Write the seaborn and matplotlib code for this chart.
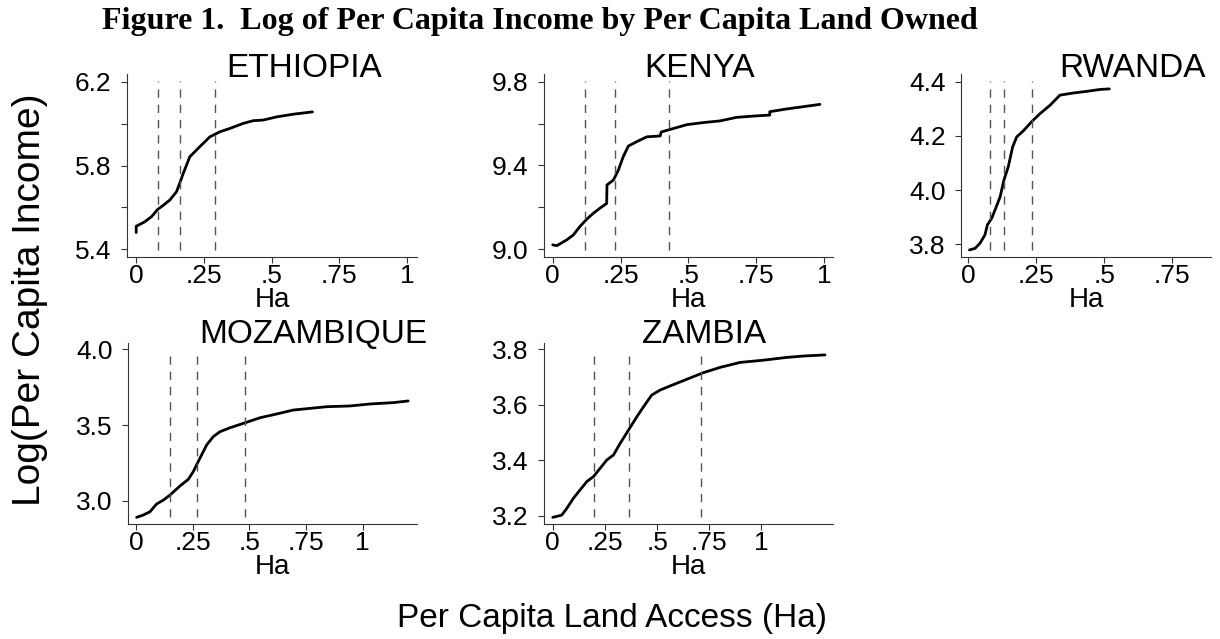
import matplotlib
matplotlib.use("Agg")
import matplotlib.pyplot as plt
import seaborn as sns
import pandas as pd
from matplotlib.ticker import FixedLocator

# ---------------- data ----------------
countries = ["ETHIOPIA", "KENYA", "RWANDA", "MOZAMBIQUE", "ZAMBIA"]

eth_x = [0.0, 0.0, 0.03, 0.057, 0.079, 0.10, 0.124, 0.149, 0.162, 0.174, 0.198, 0.235,
         0.272, 0.309, 0.346, 0.395, 0.432, 0.469, 0.518, 0.58, 0.651]
eth_y = [5.48, 5.51, 5.53, 5.556, 5.59, 5.61, 5.635, 5.675, 5.72, 5.763, 5.842, 5.89,
         5.937, 5.961, 5.977, 6.001, 6.014, 6.017, 6.032, 6.045, 6.056]

ken_x = [0.0, 0.015, 0.052, 0.076, 0.10, 0.125, 0.15, 0.174, 0.199, 0.2, 0.224, 0.242,
         0.26, 0.279, 0.31, 0.347, 0.396, 0.40, 0.432, 0.494, 0.555, 0.617, 0.678,
         0.74, 0.80, 0.80, 0.862, 0.924, 0.985]
ken_y = [9.021, 9.017, 9.045, 9.068, 9.108, 9.143, 9.172, 9.196, 9.219, 9.307, 9.331,
         9.378, 9.442, 9.493, 9.514, 9.537, 9.541, 9.56, 9.572, 9.595, 9.605, 9.613,
         9.63, 9.636, 9.641, 9.657, 9.67, 9.681, 9.692]

rwa_x = [0.004, 0.025, 0.043, 0.061, 0.07, 0.086, 0.098, 0.117, 0.131, 0.147, 0.163,
         0.178, 0.202, 0.233, 0.264, 0.301, 0.337, 0.387, 0.436, 0.485, 0.519]
rwa_y = [3.779, 3.785, 3.804, 3.834, 3.871, 3.896, 3.926, 3.975, 4.037, 4.086, 4.159,
         4.196, 4.218, 4.252, 4.282, 4.313, 4.350, 4.358, 4.364, 4.371, 4.373]

moz_x = [0.003, 0.032, 0.062, 0.091, 0.121, 0.15, 0.194, 0.231, 0.253, 0.282, 0.312,
         0.341, 0.371, 0.415, 0.474, 0.547, 0.621, 0.694, 0.768, 0.841, 0.944, 1.032,
         1.135, 1.201]
moz_y = [2.89, 2.905, 2.927, 2.978, 3.004, 3.037, 3.097, 3.141, 3.192, 3.28, 3.368,
         3.423, 3.456, 3.482, 3.511, 3.548, 3.573, 3.599, 3.61, 3.621, 3.626, 3.639,
         3.648, 3.659]

zam_x = [0.0, 0.043, 0.067, 0.099, 0.131, 0.163, 0.195, 0.227, 0.259, 0.291, 0.323,
         0.363, 0.403, 0.435, 0.474, 0.514, 0.562, 0.642, 0.722, 0.802, 0.898, 1.01,
         1.121, 1.201, 1.305]
zam_y = [3.194, 3.202, 3.226, 3.263, 3.293, 3.323, 3.341, 3.371, 3.401, 3.419, 3.461,
         3.509, 3.557, 3.593, 3.635, 3.653, 3.668, 3.692, 3.716, 3.735, 3.753, 3.761,
         3.771, 3.776, 3.78]

eth_vlines = [0.080, 0.161, 0.291]
ken_vlines = [0.119, 0.229, 0.429]
rwa_vlines = [0.081, 0.133, 0.233]
moz_vlines = [0.150, 0.268, 0.481]
zam_vlines = [0.198, 0.367, 0.709]

eth_yticks = [5.4, 5.8, 6.2]; eth_ylabels = ["5.4", "5.8", "6.2"]; eth_yminor = [5.6, 6.0]
ken_yticks = [9.0, 9.4, 9.8]; ken_ylabels = ["9.0", "9.4", "9.8"]; ken_yminor = [9.2, 9.6]
rwa_yticks = [3.8, 4.0, 4.2, 4.4]; rwa_ylabels = ["3.8", "4.0", "4.2", "4.4"]
moz_yticks = [3.0, 3.5, 4.0]; moz_ylabels = ["3.0", "3.5", "4.0"]
zam_yticks = [3.2, 3.4, 3.6, 3.8]; zam_ylabels = ["3.2", "3.4", "3.6", "3.8"]

xticks_full = [0, 0.25, 0.5, 0.75, 1]; xlabels_full = ["0", ".25", ".5", ".75", "1"]
xticks_rwa = [0, 0.25, 0.5, 0.75]; xlabels_rwa = ["0", ".25", ".5", ".75"]

fig_title = "Figure 1.  Log of Per Capita Income by Per Capita Land Owned"
y_title = "Log(Per Capita Income)"
x_title = "Per Capita Land Access (Ha)"
panel_xlabel = "Ha"

# ---------------- style ----------------
sns.set_theme(style="ticks")
plt.rcParams["font.family"] = ["Liberation Sans", "DejaVu Sans"]
plt.rcParams["text.color"] = "black"
plt.rcParams["axes.labelcolor"] = "black"

W, H = 1220, 639
fig = plt.figure(figsize=(W / 100, H / 100), dpi=100)
fig.patch.set_facecolor("white")


def px_axes(left, right, top, bottom):
    return fig.add_axes([left / W, 1 - bottom / H, (right - left) / W, (bottom - top) / H])


panels = [
    dict(name=countries[0], x=eth_x, y=eth_y, v=eth_vlines, box=(127, 417, 74, 257),
         xlim=(-0.034, 1.037), ylim=(5.363, 6.237), yt=eth_yticks, yl=eth_ylabels,
         ym=eth_yminor, xt=xticks_full, xl=xlabels_full, tpos=(304, 77)),
    dict(name=countries[1], x=ken_x, y=ken_y, v=ken_vlines, box=(544, 833, 74, 257),
         xlim=(-0.032, 1.033), ylim=(8.963, 9.837), yt=ken_yticks, yl=ken_ylabels,
         ym=ken_yminor, xt=xticks_full, xl=xlabels_full, tpos=(700, 77)),
    dict(name=countries[2], x=rwa_x, y=rwa_y, v=rwa_vlines, box=(961, 1211, 74, 257),
         xlim=(-0.027, 0.893), ylim=(3.753, 4.428), yt=rwa_yticks, yl=rwa_ylabels,
         ym=[], xt=xticks_rwa, xl=xlabels_rwa, tpos=(1133, 77)),
    dict(name=countries[3], x=moz_x, y=moz_y, v=moz_vlines, box=(128, 417, 343, 524),
         xlim=(-0.035, 1.24), ylim=(2.846, 4.042), yt=moz_yticks, yl=moz_ylabels,
         ym=[], xt=xticks_full, xl=xlabels_full, tpos=(313, 343)),
    dict(name=countries[4], x=zam_x, y=zam_y, v=zam_vlines, box=(544, 833, 343, 524),
         xlim=(-0.042, 1.343), ylim=(3.170, 3.823), yt=zam_yticks, yl=zam_ylabels,
         ym=[], xt=xticks_full, xl=xlabels_full, tpos=(704, 343)),
]

for p in panels:
    ax = px_axes(*p["box"])
    df = pd.DataFrame({"x": p["x"], "y": p["y"]})
    sns.lineplot(data=df, x="x", y="y", ax=ax, color="black", linewidth=2.0,
                 sort=False, estimator=None)
    for xv in p["v"]:
        ax.axvline(xv, ymin=0.038, ymax=0.96, color="#555555", linewidth=1.0,
                   linestyle=(0, (6, 5)))
    ax.set_xlim(*p["xlim"])
    ax.set_ylim(*p["ylim"])
    ax.set_xticks(p["xt"])
    ax.set_xticklabels(p["xl"])
    ax.set_yticks(p["yt"])
    ax.set_yticklabels(p["yl"])
    if p["ym"]:
        ax.yaxis.set_minor_locator(FixedLocator(p["ym"]))
    ax.tick_params(axis="both", which="both", direction="out", length=4, width=0.8,
                   color="#333333", labelsize=19, labelcolor="black")
    ax.tick_params(axis="x", pad=1)
    ax.tick_params(axis="y", pad=7)
    for s in ["top", "right"]:
        ax.spines[s].set_visible(False)
    for s in ["left", "bottom"]:
        ax.spines[s].set_color("#333333")
        ax.spines[s].set_linewidth(0.8)
    ax.set_xlabel(panel_xlabel, fontsize=20, labelpad=-1, color="black")
    ax.set_ylabel("")
    ax.set_facecolor("white")
    fig.text(p["tpos"][0] / W, 1 - p["tpos"][1] / H, p["name"], ha="center",
             va="baseline", fontsize=24, color="black")

fig.text(102 / W, 1 - 29 / H, fig_title, ha="left", va="baseline", fontsize=23,
         fontweight="bold", family=["Liberation Serif", "DejaVu Serif"], color="black")
fig.text(30 / W, 1 - 300 / H, y_title, ha="center", va="center", rotation=90,
         fontsize=28, color="black")
fig.text(612 / W, 1 - 627 / H, x_title, ha="center", va="baseline", fontsize=24,
         color="black")

fig.savefig("out.png", dpi=100, facecolor="white")
